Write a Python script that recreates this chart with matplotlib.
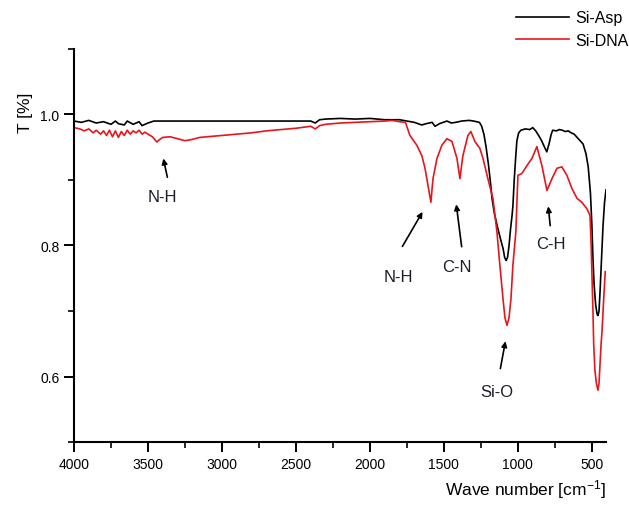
import matplotlib
matplotlib.use("Agg")
import matplotlib.pyplot as plt
from matplotlib.ticker import MultipleLocator

plt.rcParams['font.family'] = ['Liberation Sans', 'DejaVu Sans']
plt.rcParams['mathtext.default'] = 'regular'

# Si-Asp spectrum (black)
asp_x = [4000, 3950, 3900, 3850, 3800, 3750, 3720, 3700, 3660, 3640, 3600, 3560,
         3540, 3500, 3460, 3400, 3000, 2600, 2400, 2370, 2340, 2300, 2200, 2100,
         2000, 1900, 1800, 1750, 1700, 1650, 1620, 1580, 1560, 1530, 1480, 1450,
         1420, 1380, 1330, 1300, 1260, 1245, 1230, 1215, 1200, 1185, 1175, 1160,
         1140, 1120, 1100, 1090, 1080, 1070, 1060, 1050, 1040, 1034, 1025, 1015,
         1007, 995, 980, 950, 920, 900, 880, 860, 840, 820, 805, 790, 775, 765,
         740, 720, 700, 680, 660, 640, 620, 600, 580, 560, 540, 525, 510, 500,
         493, 485, 475, 465, 459, 452, 445, 435, 425, 415, 405]
asp_y = [0.990, 0.988, 0.991, 0.987, 0.989, 0.985, 0.990, 0.986, 0.984, 0.990, 0.985, 0.989,
         0.983, 0.987, 0.990, 0.990, 0.990, 0.990, 0.990, 0.987, 0.992, 0.993, 0.994, 0.993,
         0.994, 0.992, 0.992, 0.990, 0.988, 0.984, 0.986, 0.988, 0.982, 0.986, 0.990, 0.987,
         0.988, 0.990, 0.991, 0.990, 0.988, 0.982, 0.970, 0.950, 0.925, 0.895, 0.872, 0.850,
         0.830, 0.812, 0.795, 0.782, 0.777, 0.782, 0.800, 0.825, 0.845, 0.860, 0.900, 0.935,
         0.960, 0.972, 0.976, 0.978, 0.977, 0.980, 0.975, 0.968, 0.960, 0.950, 0.943, 0.955,
         0.970, 0.976, 0.975, 0.977, 0.976, 0.974, 0.975, 0.972, 0.970, 0.965, 0.960, 0.955,
         0.940, 0.920, 0.880, 0.830, 0.780, 0.740, 0.710, 0.695, 0.693, 0.700, 0.730, 0.780,
         0.830, 0.865, 0.885]

# Si-DNA spectrum (red)
dna_x = [4000, 3960, 3930, 3900, 3870, 3850, 3820, 3800, 3780, 3760, 3740, 3720,
         3700, 3680, 3660, 3640, 3620, 3600, 3580, 3560, 3540, 3520, 3500, 3470,
         3440, 3420, 3400, 3350, 3300, 3250, 3200, 3150, 3100, 3000, 2900, 2800,
         2700, 2600, 2500, 2400, 2370, 2340, 2300, 2200, 2100, 2000, 1900, 1850,
         1800, 1760, 1730, 1683, 1649, 1628, 1608, 1588, 1574, 1547, 1514, 1480,
         1446, 1412, 1392, 1372, 1338, 1318, 1291, 1257, 1236, 1203, 1169, 1142,
         1122, 1101, 1088, 1074, 1060, 1047, 1034, 1014, 1000, 973, 939, 905, 872,
         838, 804, 770, 736, 703, 669, 635, 601, 568, 534, 513, 505, 498, 493,
         488, 480, 470, 459, 452, 445, 438, 432, 420, 410]
dna_y = [0.980, 0.978, 0.975, 0.978, 0.972, 0.976, 0.970, 0.975, 0.968, 0.976, 0.966, 0.975,
         0.965, 0.974, 0.968, 0.976, 0.970, 0.975, 0.972, 0.976, 0.970, 0.973, 0.970, 0.966,
         0.958, 0.962, 0.965, 0.966, 0.963, 0.960, 0.962, 0.965, 0.966, 0.968, 0.970, 0.972,
         0.975, 0.977, 0.979, 0.982, 0.978, 0.983, 0.985, 0.987, 0.988, 0.989, 0.990, 0.991,
         0.989, 0.988, 0.968, 0.953, 0.937, 0.918, 0.892, 0.866, 0.902, 0.933, 0.953, 0.963,
         0.959, 0.933, 0.902, 0.937, 0.968, 0.974, 0.959, 0.948, 0.933, 0.902, 0.872, 0.821,
         0.770, 0.719, 0.690, 0.678, 0.690, 0.719, 0.770, 0.821, 0.907, 0.910, 0.922, 0.933,
         0.951, 0.922, 0.884, 0.902, 0.918, 0.920, 0.907, 0.887, 0.872, 0.866, 0.856, 0.846,
         0.800, 0.740, 0.700, 0.650, 0.610, 0.590, 0.579, 0.590, 0.620, 0.650, 0.668, 0.720,
         0.760]

# band labels: text, text position, arrow tail, arrow tip
bands = [
    ("N-H", (3400, 0.875), (3365, 0.900), (3400, 0.937)),
    ("N-H", (1811, 0.753), (1790, 0.795), (1635, 0.855)),
    ("C-N", (1412, 0.768), (1378, 0.794), (1419, 0.867)),
    ("Si-O", (1142, 0.577), (1122, 0.608), (1081, 0.658)),
    ("C-H", (777, 0.803), (780, 0.826), (797, 0.864)),
]

fig = plt.figure(figsize=(6.29, 5.06), dpi=100)
ax = fig.add_axes([0.1176, 0.1245, 0.8458, 0.7767])

ax.plot(asp_x, asp_y, color='black', lw=1.2, label='Si-Asp')
ax.plot(dna_x, dna_y, color='#e8151b', lw=1.2, label='Si-DNA')

for name, txt, tail, tip in bands:
    ax.text(txt[0], txt[1], name, ha='center', va='center', fontsize=12, color='#1c1c2c')
    ax.annotate('', xy=tip, xytext=tail,
                arrowprops=dict(arrowstyle='-|>', color='black', lw=1.2, mutation_scale=8))

ax.set_xlim(4000, 405)
ax.set_ylim(0.5, 1.1)
ax.xaxis.set_major_locator(MultipleLocator(500))
ax.xaxis.set_minor_locator(MultipleLocator(250))
ax.yaxis.set_major_locator(MultipleLocator(0.2))
ax.yaxis.set_minor_locator(MultipleLocator(0.1))
ax.set_yticks([0.6, 0.8, 1.0])
ax.set_yticklabels(['0.6', '0.8', '1.0'])

for s in ['top', 'right']:
    ax.spines[s].set_visible(False)
for s in ['left', 'bottom']:
    ax.spines[s].set_linewidth(1.5)
ax.tick_params(which='major', direction='out', length=7, width=1.4, labelsize=10)
ax.tick_params(which='minor', direction='out', length=4, width=1.2)

ax.set_xlabel('Wave number [cm$^{-1}$]', fontsize=12.5, loc='right', labelpad=5)
ax.set_ylabel('T [%]', fontsize=12.5)
ax.yaxis.set_label_coords(-0.077, 0.84)

ax.legend(loc='upper left', bbox_to_anchor=(0.81, 0.99), bbox_transform=fig.transFigure,
          frameon=False, fontsize=11.5, handlelength=3.3, handletextpad=0.4,
          labelspacing=0.45, borderaxespad=0)

fig.savefig('out.png', dpi=100)
